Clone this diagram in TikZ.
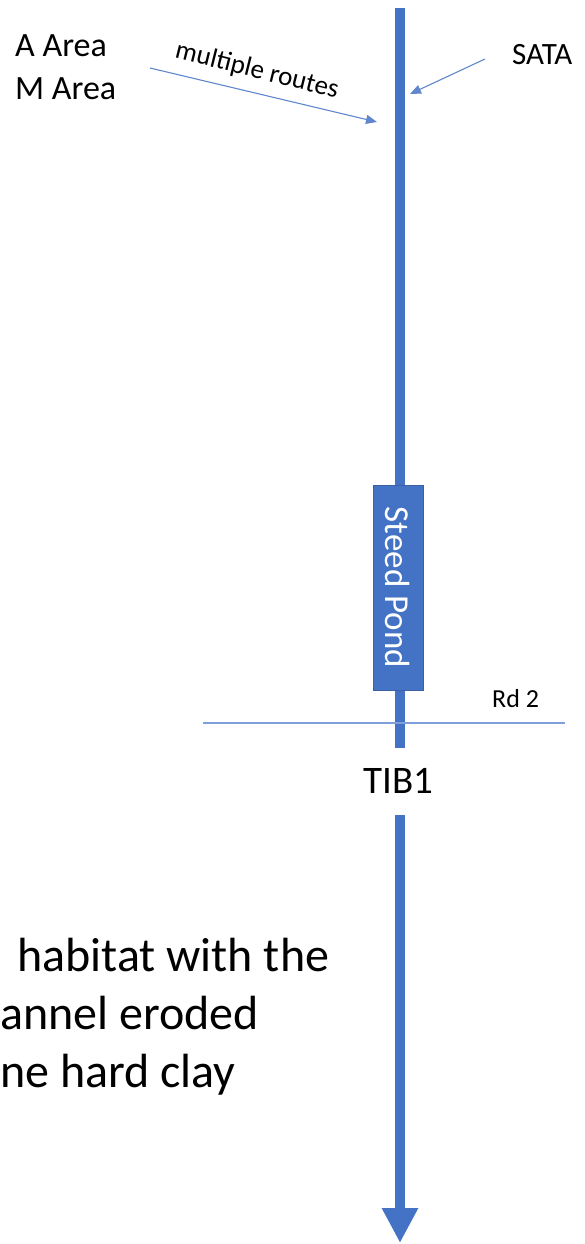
\documentclass[tikz,border=0pt]{standalone}
\usepackage{fontspec}
\setmainfont{Carlito}
\usetikzlibrary{positioning,arrows.meta}

\definecolor{streamblue}{HTML}{4472C4}
\definecolor{thinblue}{HTML}{7E9FD9}

\begin{document}
\begin{tikzpicture}[
  x=1pt, y=-1pt,
  stream/.style={draw=streamblue, line width=10pt},
  thin/.style={draw=thinblue, line width=1.1pt},
  thinarr/.style={thin, -{Triangle[length=11pt,width=9pt]}, color=streamblue!85},
  pond/.style={
    rectangle, fill=streamblue, draw=streamblue!85!black, line width=0.6pt,
    minimum width=205pt, minimum height=50pt, inner sep=0pt,
    text=white, font=\fontsize{35}{40}\selectfont
  },
  lbl/.style={inner sep=0pt, anchor=base west, font=\fontsize{34}{41}\selectfont},
  note/.style={inner sep=0pt, anchor=base west, font=\fontsize{48}{58}\selectfont}
]
\useasboundingbox (0,0) rectangle (585,1244);

% stream ends
\coordinate (src) at (400,8);
\coordinate (upend) at (400,748);
\coordinate (lowstart) at (400,815);
\coordinate (mouth) at (400,1243);

\draw[stream] (src) -- (upend);
\draw[stream, -{Triangle[length=35pt,width=34pt]}] (lowstart) -- (mouth);

\node[pond, rotate=-90] (pond) at (398,587.5) {Steed Pond};

% road
\coordinate (rdw) at (203,723);
\coordinate (rde) at (565,723);
\draw[thin] (rdw) -- (rde);
\node[lbl, font=\fontsize{26}{30}\selectfont] (rd) at (492,707) {Rd 2};

\node[lbl, font=\fontsize{39}{46}\selectfont] (tib) at (363,793) {TIB1};

% inflows
\node[lbl] (aarea) at (15,57) {A Area};
\node[lbl] (marea) at (15,100) {M Area};
\node[lbl, font=\fontsize{31}{37}\selectfont] (sata) at (512,65) {SATA};

\coordinate (mrfrom) at (150,68);
\coordinate (mrto) at (377,122);
\coordinate (satafrom) at (485,59);
\coordinate (satato) at (410,94);
\draw[thinarr] (mrfrom) -- (mrto);
\draw[thinarr] (satafrom) -- (satato);
\node[inner sep=0pt, rotate=-14, font=\fontsize{27}{32}\selectfont] (routes) at (257,71) {multiple routes};

% note text, cut at the left edge
\node[note] (n1) at (17,971) {habitat with the};
\node[note] (n2) at (0,1029) {annel eroded};
\node[note] (n3) at (0,1087) {ne hard clay};
\end{tikzpicture}
\end{document}
